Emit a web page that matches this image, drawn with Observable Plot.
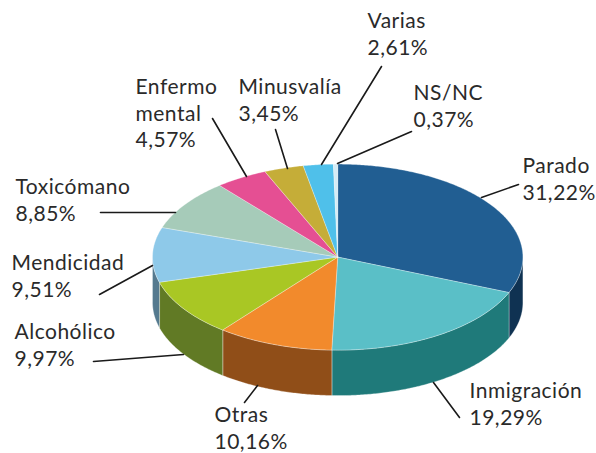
<!DOCTYPE html>
<html><head><meta charset="utf-8">
<script src="https://cdn.jsdelivr.net/npm/d3@7"></script>
<script src="https://cdn.jsdelivr.net/npm/@observablehq/plot@0.6"></script>
<style>html,body{margin:0;padding:0;background:#fff}svg{display:block}svg text{letter-spacing:.5px}</style>
</head><body><div id="chart"></div>
<script>
// Data
const names = ["Parado","Inmigración","Otras","Alcohólico","Mendicidad","Toxicómano","Enfermo mental","Minusvalía","Varias","NS/NC"];
const values = [31.22,19.29,10.16,9.97,9.51,8.85,4.57,3.45,2.61,0.37];
const topColors = ["#215e92","#5abfc7","#f28a2c","#a9c724","#8ec9e9","#a6cbb9","#e54f93","#c5ad38","#4fc0ea","#d5ecf5"];
const wallColors = ["#0f3252","#1f7a7a","#904e18","#617a25","#557a8f","#5f7d6e","#8a2f58","#776822","#2f748d","#808e93"];
// Layout
const labelLines = [["Parado"],["Inmigración"],["Otras"],["Alcohólico"],["Mendicidad"],["Toxicómano"],["Enfermo","mental"],["Minusvalía"],["Varias"],["NS/NC"]];
const labelX = [522,469,214,14,11,15,135,238,367,413];
const labelY = [167,392,416,333,264,188,88,88,22,94];
const leaderStart = [[481,197],[433,382],[257,385],[183,354],[152,265],[175,212],[246,176],[287,168],[321,164],[337,163]];
const leaderEnd = [[518,184],[459,417],[244,402],[93,361],[99,294],[100,212],[212,118],[275,129],[381,66],[411,131]];
const cx = 337.2, cy = 256.6, rx = 185.2, ry = 93, depth = 45.5;

const W = 596, H = 453;
const pt = (t, dy = 0) => ({x: cx + rx * Math.sin(t), y: cy - ry * Math.cos(t) + dy});
const arc = (a, b, dy = 0) => {
  const n = Math.max(2, Math.ceil((b - a) / 0.01));
  return d3.range(n + 1).map(i => pt(a + (b - a) * i / n, dy));
};
const total = d3.sum(values);
let acc = 0;
const slices = names.map((name, i) => {
  const a = acc / total * 2 * Math.PI;
  acc += values[i];
  return {name, i, a, b: acc / total * 2 * Math.PI};
});
const topPts = slices.flatMap(s =>
  [{x: cx, y: cy}, ...arc(s.a, s.b), {x: cx, y: cy}].map(p => ({...p, key: s.name}))
);
const wallPts = slices.flatMap(s => {
  const a = Math.max(s.a, Math.PI / 2), b = Math.min(s.b, 3 * Math.PI / 2);
  if (b <= a) return [];
  return [...arc(a, b), ...arc(a, b, depth).reverse()].map(p => ({...p, key: s.name + " lateral"}));
});
const colorDomain = [...names, ...names.map(n => n + " lateral")];
const colorRange = [...topColors, ...wallColors];
const leaders = slices.flatMap((s, i) => [
  {x: leaderStart[i][0], y: leaderStart[i][1], key: s.name},
  {x: leaderEnd[i][0], y: leaderEnd[i][1], key: s.name}
]);
const fontSize = 21, lineH = 26.5;
const labels = slices.map((s, i) => ({
  x: labelX[i],
  y: labelY[i] - lineH / 2,
  text: [...labelLines[i], values[i].toFixed(2).replace(".", ",") + "%"].join("\n")
}));

const plot = Plot.plot({
  width: W, height: H, margin: 0,
  x: {domain: [0, W], range: [0, W], axis: null},
  y: {domain: [0, H], range: [0, H], axis: null},
  color: {domain: colorDomain, range: colorRange, type: "ordinal"},
  style: {background: "#fff"},
  marks: [
    Plot.line(wallPts, {x: "x", y: "y", z: "key", fill: "key", stroke: "#fff", strokeWidth: 0.5, strokeOpacity: 0.6, curve: "linear-closed"}),
    Plot.line(topPts, {x: "x", y: "y", z: "key", fill: "key", stroke: "#fff", strokeWidth: 0.5, strokeOpacity: 0.6, curve: "linear-closed"}),
    Plot.line(leaders, {x: "x", y: "y", z: "key", stroke: "#1a1a1a", strokeWidth: 1.6}),
    Plot.text(labels, {x: "x", y: "y", text: "text", textAnchor: "start", lineAnchor: "top", lineHeight: lineH / fontSize, fontSize, fontFamily: "Lato", fill: "#2a2a2a"})
  ]
});
document.getElementById("chart").append(plot);
</script></body></html>
